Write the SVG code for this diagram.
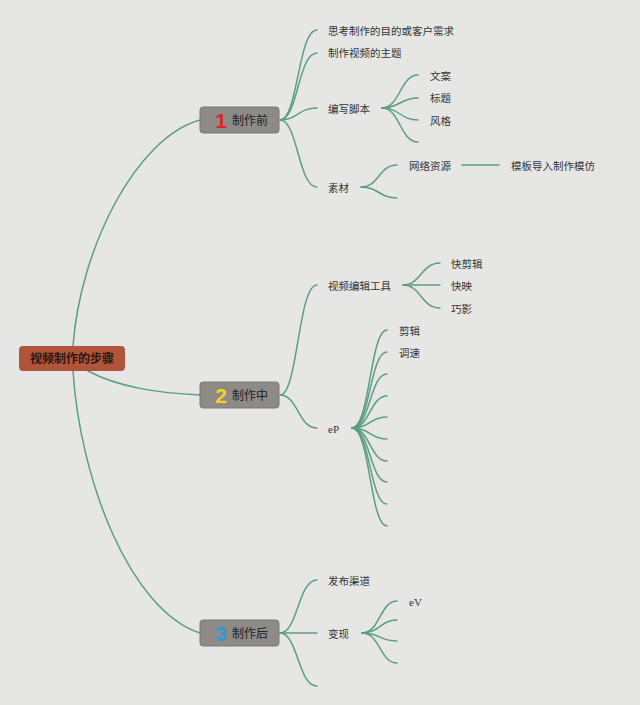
<svg xmlns="http://www.w3.org/2000/svg" width="640" height="705" viewBox="0 0 640 705">
<style>
.c{fill:none;stroke:#5b9d86;stroke-width:1.5;stroke-linecap:round}
.t{font-family:"Noto Sans CJK SC","Noto Sans",sans-serif;font-size:10.5px;fill:#333}
.s{font-family:"Liberation Serif",serif;font-size:11px;fill:#333}
.n{fill:#8e8a85;stroke:#7d7a76;stroke-width:1}
.nl{font-family:"Noto Sans CJK SC","Noto Sans",sans-serif;font-size:12px;fill:#222}
.num{font-family:"Liberation Sans","DejaVu Sans",sans-serif;font-size:21px;font-weight:bold}
</style>
<rect width="640" height="705" fill="#e6e7e5"/>
<g id="connectors">
<path class="c" d="M73 346 C80 250,135 138,200 120"/>
<path class="c" d="M88 371 C120 388,160 393,200 395"/>
<path class="c" d="M73 371 C80 480,130 610,200 633"/>
<path class="c" d="M280 120 C298 120,298 30,317 30"/>
<path class="c" d="M280 120 C298 120,298 53,317 53"/>
<path class="c" d="M280 120 C298 120,298 108,317 108"/>
<path class="c" d="M280 120 C298 120,298 187,317 187"/>
<path class="c" d="M382 108 C400 108,400 75,418 75"/>
<path class="c" d="M382 108 C400 108,400 98,418 98"/>
<path class="c" d="M382 108 C400 108,400 120,418 120"/>
<path class="c" d="M382 108 C400 108,400 142,418 142"/>
<path class="c" d="M361 187 C379 187,379 165,397 165"/>
<path class="c" d="M361 187 C379 187,379 198,397 198"/>
<path class="c" d="M462 165 L499 165"/>
<path class="c" d="M280 395 C298 395,298 285,317 285"/>
<path class="c" d="M280 395 C298 395,298 428,317 428"/>
<path class="c" d="M403 285 C421 285,421 263,440 263"/>
<path class="c" d="M403 285 C421 285,421 285,440 285"/>
<path class="c" d="M403 285 C421 285,421 308,440 308"/>
<path class="c" d="M352 428 C370 428,370 330,387 330"/>
<path class="c" d="M352 428 C370 428,370 352,387 352"/>
<path class="c" d="M352 428 C370 428,370 374,387 374"/>
<path class="c" d="M352 428 C370 428,370 396,387 396"/>
<path class="c" d="M352 428 C370 428,370 417,387 417"/>
<path class="c" d="M352 428 C370 428,370 439,387 439"/>
<path class="c" d="M352 428 C370 428,370 461,387 461"/>
<path class="c" d="M352 428 C370 428,370 482,387 482"/>
<path class="c" d="M352 428 C370 428,370 504,387 504"/>
<path class="c" d="M352 428 C370 428,370 526,387 526"/>
<path class="c" d="M280 633 C298 633,298 580,317 580"/>
<path class="c" d="M280 633 C298 633,298 633,317 633"/>
<path class="c" d="M280 633 C298 633,298 686,317 686"/>
<path class="c" d="M362 633 C380 633,380 601,397 601"/>
<path class="c" d="M362 633 C380 633,380 620,397 620"/>
<path class="c" d="M362 633 C380 633,380 641,397 641"/>
<path class="c" d="M362 633 C380 633,380 663,397 663"/>
</g>
<g id="root">
<rect x="19" y="346" width="106" height="25" rx="4" fill="#b0553a"/>
<text x="72" y="362.5" text-anchor="middle" style="font-family:'Noto Sans CJK SC',sans-serif;font-size:12px;font-weight:bold;fill:#2a1812">视频制作的步骤</text>
</g>
<g id="n1">
<rect class="n" x="200" y="107" width="79" height="26" rx="3"/>
<text class="num" x="221" y="128" text-anchor="middle" fill="#e3222b">1</text>
<text class="nl" x="232" y="124.5">制作前</text>
</g>
<g id="n2">
<rect class="n" x="200" y="382" width="79" height="26" rx="3"/>
<text class="num" x="221" y="403" text-anchor="middle" fill="#f3d22c">2</text>
<text class="nl" x="232" y="399.5">制作中</text>
</g>
<g id="n3">
<rect class="n" x="200" y="620" width="79" height="26" rx="3"/>
<text class="num" x="221" y="641" text-anchor="middle" fill="#2b9bd9">3</text>
<text class="nl" x="232" y="637.5">制作后</text>
</g>
<g id="labels">
<text class="t" x="328" y="35">思考制作的目的或客户需求</text>
<text class="t" x="328" y="57">制作视频的主题</text>
<text class="t" x="328" y="113">编写脚本</text>
<text class="t" x="328" y="192">素材</text>
<text class="t" x="430" y="80">文案</text>
<text class="t" x="430" y="102">标题</text>
<text class="t" x="430" y="125">风格</text>
<text class="t" x="409" y="170">网络资源</text>
<text class="t" x="511" y="170">模板导入制作模仿</text>
<text class="t" x="328" y="290">视频编辑工具</text>
<text class="t" x="451" y="268">快剪辑</text>
<text class="t" x="451" y="290">快映</text>
<text class="t" x="451" y="313">巧影</text>
<text class="s" x="328" y="433">eP</text>
<text class="t" x="399" y="335">剪辑</text>
<text class="t" x="399" y="357">调速</text>
<text class="t" x="328" y="585">发布渠道</text>
<text class="t" x="328" y="638">变现</text>
<text class="s" x="409" y="606">eV</text>
</g>
</svg>
